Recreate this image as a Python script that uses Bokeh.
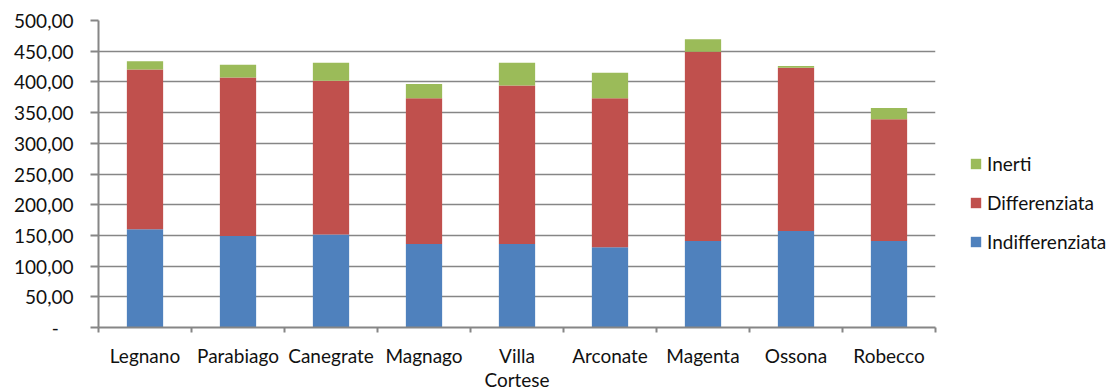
from bokeh.plotting import figure
from bokeh.models import (Range1d, FixedTicker, CustomJSTickFormatter, Legend,
                          LegendItem, ColumnDataSource)
from bokeh.embed import file_html
from bokeh.resources import INLINE

# Comuni and waste amounts per stream
comuni = ["Legnano", "Parabiago", "Canegrate", "Magnago", "Villa\nCortese",
          "Arconate", "Magenta", "Ossona", "Robecco"]
indifferenziata = [160.0, 149.0, 151.5, 136.0, 136.0, 130.5, 141.0, 157.0, 141.0]
differenziata = [260.0, 258.0, 250.5, 237.5, 258.0, 243.0, 308.0, 266.0, 198.0]
inerti = [13.5, 21.0, 29.0, 23.0, 37.0, 41.5, 20.5, 3.0, 18.5]

series = ["indifferenziata", "differenziata", "inerti"]
labels = {"indifferenziata": "Indifferenziata", "differenziata": "Differenziata",
          "inerti": "Inerti"}
colors = ["#4F81BD", "#C0504D", "#9BBB59"]
y_ticks = [0, 50, 100, 150, 200, 250, 300, 350, 400, 450, 500]

FONT = "Lato"
TEXT = "#111111"
GRID = "#868686"
FS = "19px"

centers = [i + 0.5 for i in range(len(comuni))]
source = ColumnDataSource(dict(x=centers, comune=comuni,
                               indifferenziata=indifferenziata,
                               differenziata=differenziata, inerti=inerti))

p = figure(frame_width=837, frame_height=307, output_backend="svg",
           toolbar_location=None,
           x_range=Range1d(0, len(comuni)), y_range=Range1d(0, 500),
           min_border_left=98, min_border_right=179, min_border_top=20,
           min_border_bottom=62)
p.outline_line_color = None
p.background_fill_color = "white"
p.border_fill_color = "white"

renderers = p.vbar_stack(series, x="x", width=0.39, source=source, color=colors,
                         line_color=None)

# x axis: names at bar centres, small ticks on category boundaries
p.xaxis.ticker = FixedTicker(ticks=centers, minor_ticks=list(range(len(comuni) + 1)))
p.xaxis.major_label_overrides = {c: n for c, n in zip(centers, comuni)}
p.xaxis.major_tick_line_color = None
p.xaxis.major_tick_out = 0
p.xaxis.minor_tick_out = 5
p.xaxis.minor_tick_in = 0
p.xaxis.minor_tick_line_color = GRID
p.xaxis.minor_tick_line_width = 2
p.xaxis.axis_line_color = GRID
p.xaxis.axis_line_width = 2
p.xaxis.major_label_standoff = 11
p.xaxis.major_label_text_font = FONT
p.xaxis.major_label_text_font_size = FS
p.xaxis.major_label_text_color = TEXT
p.xaxis.major_label_text_line_height = 1.05

# y axis: Italian number format, dash for zero
p.yaxis.ticker = FixedTicker(ticks=y_ticks, minor_ticks=[])
p.yaxis.formatter = CustomJSTickFormatter(code="""
    if (tick == 0) return "-\u00a0\u00a0\u00a0";
    return tick.toFixed(2).replace(".", ",");
""")
p.yaxis.major_tick_out = 8
p.yaxis.major_tick_in = 0
p.yaxis.major_tick_line_color = GRID
p.yaxis.major_tick_line_width = 2
p.yaxis.axis_line_color = GRID
p.yaxis.axis_line_width = 2
p.yaxis.major_label_standoff = 17
p.yaxis.major_label_text_font = FONT
p.yaxis.major_label_text_font_size = FS
p.yaxis.major_label_text_color = TEXT

p.xgrid.grid_line_color = None
p.ygrid.ticker = FixedTicker(ticks=y_ticks)
p.ygrid.grid_line_color = GRID
p.ygrid.grid_line_width = 1.5

# legend, top series first
items = [LegendItem(label=labels[s], renderers=[r])
         for s, r in reversed(list(zip(series, renderers)))]
legend = Legend(items=items, location=(34, 74), orientation="vertical")
legend.border_line_color = None
legend.background_fill_alpha = 0
legend.padding = 0
legend.margin = 0
legend.glyph_width = 13
legend.glyph_height = 13
legend.label_height = 13
legend.spacing = 16
legend.label_standoff = 5
legend.label_text_font = FONT
legend.label_text_font_size = FS
legend.label_text_color = TEXT
p.add_layout(legend, "right")

open("out.html", "w").write(file_html(p, INLINE))
